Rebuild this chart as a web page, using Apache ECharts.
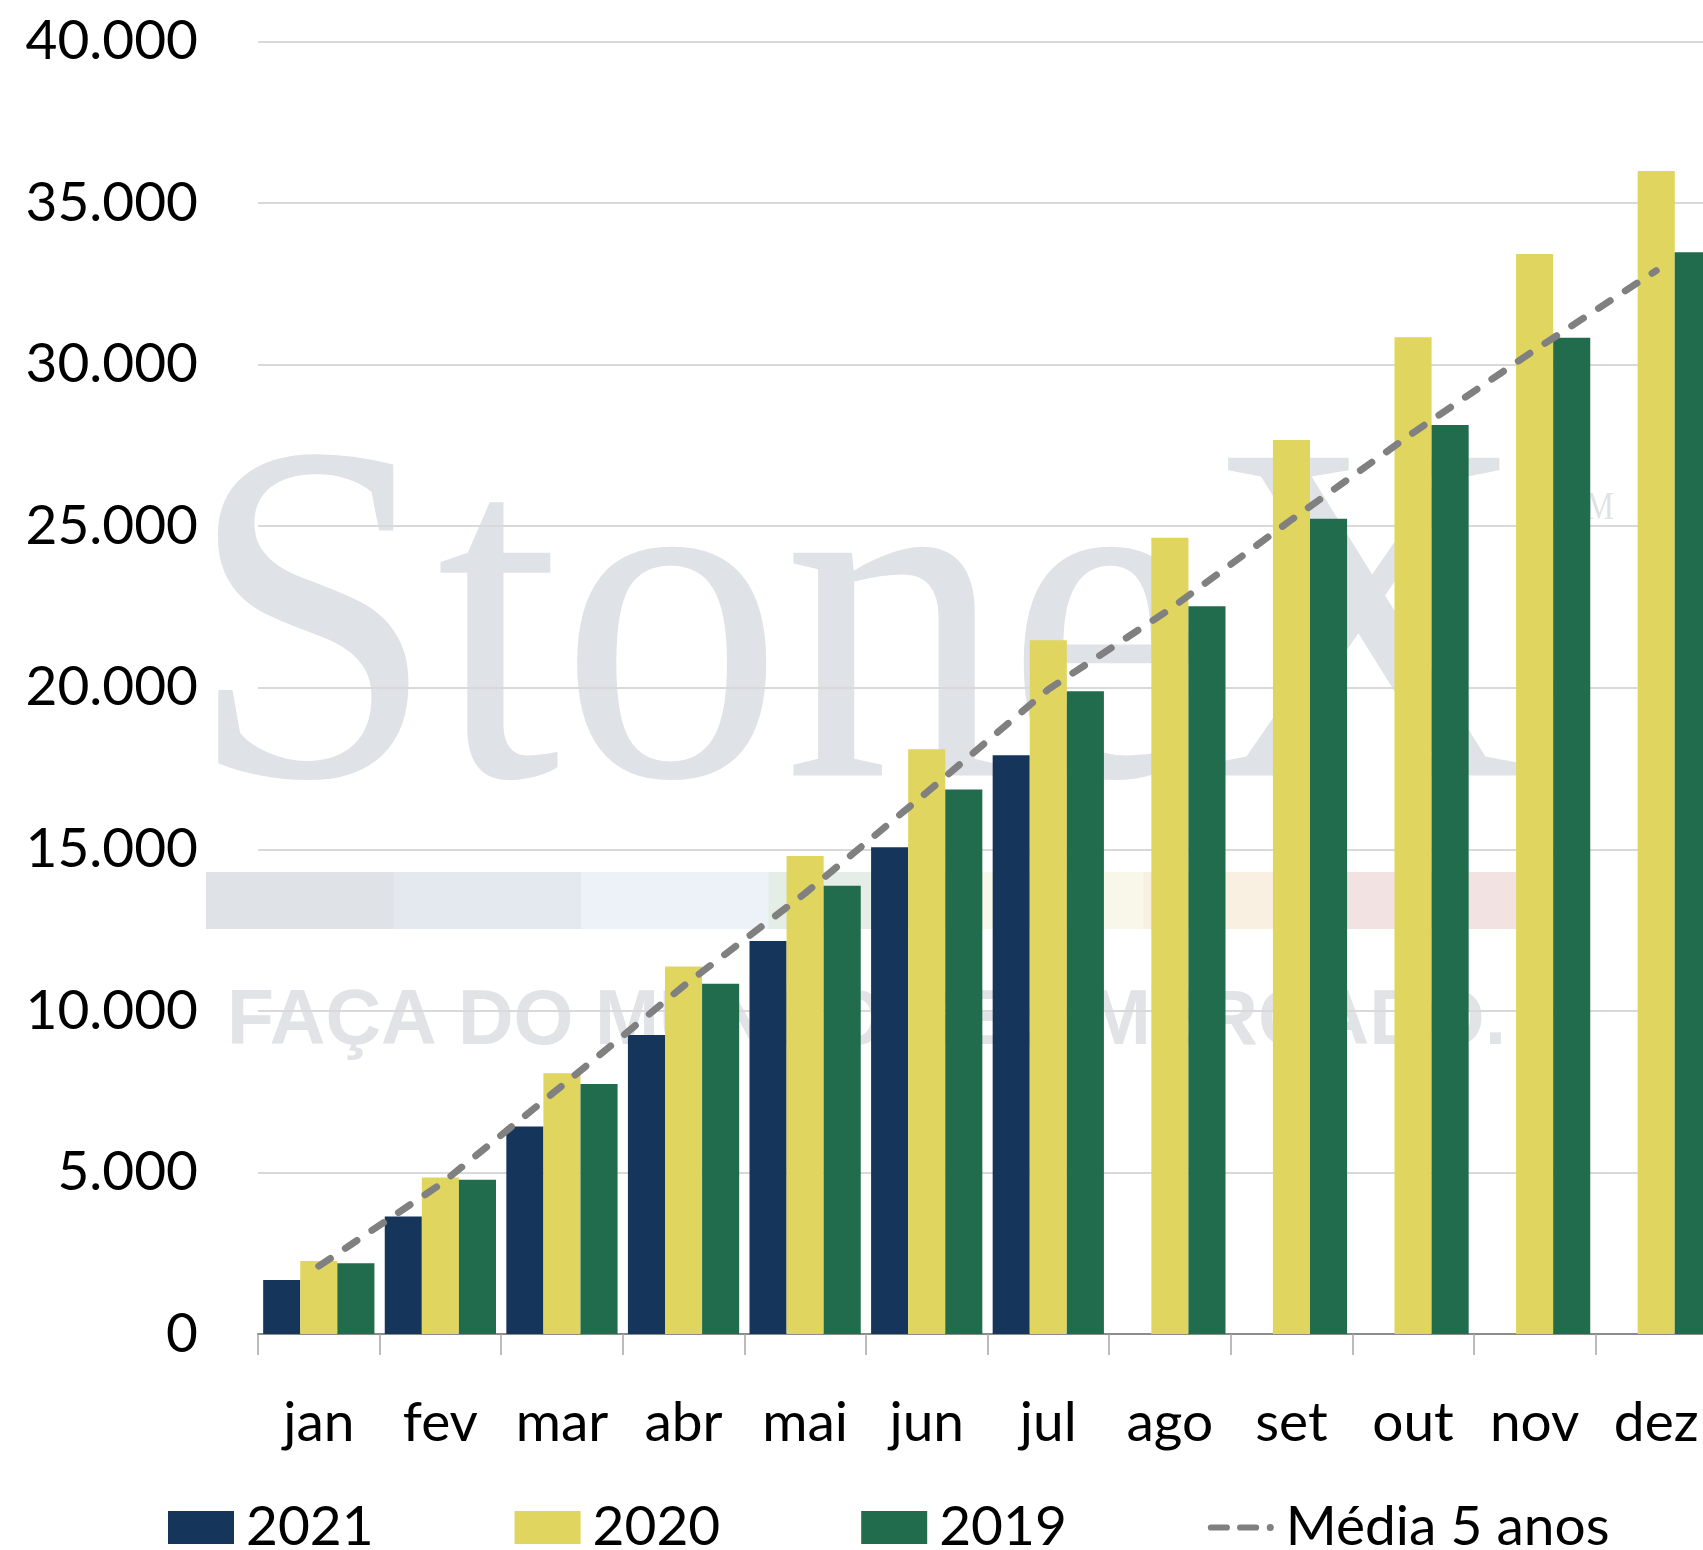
<!DOCTYPE html>
<html>
<head>
<meta charset="utf-8">
<script src="https://cdn.jsdelivr.net/npm/echarts@6/dist/echarts.min.js"></script>
<style>
  html, body { margin: 0; padding: 0; background: #ffffff; overflow: hidden; }
  #chart { width: 1717px; height: 1550px; }
</style>
</head>
<body>
<div id="chart"></div>
<script>
// Accumulated monthly volumes per year, plus the 5-year average
const months = ['jan', 'fev', 'mar', 'abr', 'mai', 'jun', 'jul', 'ago', 'set', 'out', 'nov', 'dez'];
const s2021 = [1670, 3640, 6420, 9250, 12160, 15060, 17910, null, null, null, null, null];
const s2020 = [2260, 4840, 8070, 11370, 14790, 18100, 21470, 24640, 27670, 30850, 33420, 35990];
const s2019 = [2190, 4770, 7740, 10840, 13870, 16850, 19890, 22520, 25230, 28130, 30830, 33480];
const avg5  = [2100, 4630, 7680, 10770, 13640, 16760, 19950, 22430, 25200, 27890, 30450, 32910];
const seriesNames = ['2021', '2020', '2019', 'Média 5 anos'];

// Y axis range
const yMin = 0, yMax = 40000, yStep = 5000;

// Watermark strip colours
const stripColors = ['#dfe2e7', '#e4e9f0', '#edf2f8', '#e5ede7', '#f8f7e9', '#faf0e1', '#f3e2e2'];

const FONT = 'Lato, "Noto Sans", sans-serif';

// Legend glyph for the dashed average: two rounded dashes and a dot
const dashIcon = 'path://M0,0 L0,0 M0,33 L0,33 ' +
  'M3.5,13 L21.5,13 A3.5,3.5 0 0 1 21.5,20 L3.5,20 A3.5,3.5 0 0 1 3.5,13 Z ' +
  'M36.5,13 L54.5,13 A3.5,3.5 0 0 1 54.5,20 L36.5,20 A3.5,3.5 0 0 1 36.5,13 Z ' +
  'M66.5,16.5 A4,4 0 1 1 74.5,16.5 A4,4 0 1 1 66.5,16.5 Z';

function fmtThousands(v) {
  return String(Math.round(v)).replace(/\B(?=(\d{3})+(?!\d))/g, '.');
}

const chart = echarts.init(document.getElementById('chart'), null, { renderer: 'canvas' });

// Background watermark (logo, colour strip and slogan)
const graphics = [];
graphics.push({
  type: 'text', x: 188, y: 648, scaleX: 0.92, z: -10, silent: true,
  style: {
    text: 'StoneX', font: '485px "Liberation Serif", "DejaVu Serif", serif',
    fill: '#dfe2e7', align: 'left', verticalAlign: 'middle',
    textAlign: 'left', textVerticalAlign: 'middle'
  }
});
graphics.push({
  type: 'text', x: 1566, y: 508, scaleX: 0.8, z: -10, silent: true,
  style: {
    text: 'TM', font: '40px "Liberation Serif", serif', fill: '#dfe2e7',
    align: 'left', verticalAlign: 'middle', textAlign: 'left', textVerticalAlign: 'middle'
  }
});
const stripX = 206, stripW = 187.5;
stripColors.forEach(function (c, i) {
  graphics.push({
    type: 'rect', z: -10, silent: true,
    shape: { x: stripX + i * stripW, y: 872, width: stripW + 0.5, height: 57 },
    style: { fill: c }
  });
});
graphics.push({
  type: 'text', x: 227, y: 1023, z: -10, silent: true,
  style: {
    text: 'FAÇA DO MUNDO SEU MERCADO.', font: 'bold 77px "Liberation Sans", Arial, sans-serif',
    fill: '#e1e3e7', align: 'left', verticalAlign: 'middle',
    textAlign: 'left', textVerticalAlign: 'middle'
  }
});

const option = {
  backgroundColor: '#ffffff',
  animation: false,
  textStyle: { fontFamily: FONT },
  graphic: { elements: graphics },
  grid: { left: 258, right: 0, top: 41.5, bottom: 216, containLabel: false },
  legend: {
    data: [
      { name: seriesNames[0], icon: 'rect' },
      { name: seriesNames[1], icon: 'rect' },
      { name: seriesNames[2], icon: 'rect' },
      { name: seriesNames[3], icon: dashIcon }
    ],
    left: 168, top: 1500,
    itemWidth: 66, itemHeight: 33, itemGap: 141,
    padding: 0,
    textStyle: { fontSize: 55, color: '#000000', fontFamily: FONT, padding: [0, 0, 0, 7] }
  },
  xAxis: {
    type: 'category',
    data: months,
    boundaryGap: true,
    axisLine: { show: true, lineStyle: { color: '#8c8c8c', width: 2 } },
    axisTick: { show: true, length: 21, alignWithLabel: false, lineStyle: { color: '#a6a6a6', width: 1.5 } },
    axisLabel: { margin: 62, fontSize: 55, color: '#000000', fontFamily: FONT, interval: 0 },
    splitLine: { show: false }
  },
  yAxis: {
    type: 'value',
    min: yMin, max: yMax, interval: yStep,
    axisLine: { show: false },
    axisTick: { show: false },
    axisLabel: { margin: 60, fontSize: 55, color: '#000000', fontFamily: FONT, formatter: fmtThousands },
    splitLine: { show: true, lineStyle: { color: '#d9d9d9', width: 2 } }
  },
  series: [
    {
      name: seriesNames[0], type: 'bar', data: s2021,
      barGap: '0%', barCategoryGap: '8.5%',
      itemStyle: { color: '#15365a' }
    },
    {
      name: seriesNames[1], type: 'bar', data: s2020,
      barGap: '0%', barCategoryGap: '8.5%',
      itemStyle: { color: '#e0d55f' }
    },
    {
      name: seriesNames[2], type: 'bar', data: s2019,
      barGap: '0%', barCategoryGap: '8.5%',
      itemStyle: { color: '#216c4c' }
    },
    {
      name: seriesNames[3], type: 'line', data: avg5,
      symbol: 'none', showSymbol: false, z: 5,
      lineStyle: { color: '#808080', width: 7, type: [14, 18], cap: 'round' },
      itemStyle: { color: '#808080' }
    }
  ]
};

chart.setOption(option);
</script>
</body>
</html>
